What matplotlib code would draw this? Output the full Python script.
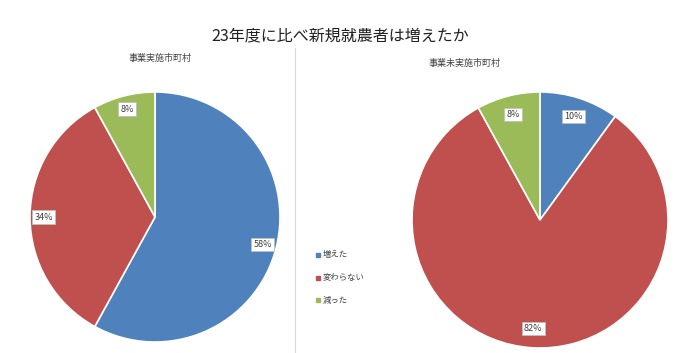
import matplotlib
matplotlib.use("Agg")
import matplotlib.pyplot as plt
from matplotlib.lines import Line2D

plt.rcParams['font.family'] = ['Noto Sans CJK JP', 'DejaVu Sans']

title = "23年度に比べ新規就農者は増えたか"
categories = ["増えた", "変わらない", "減った"]
left_title = "事業実施市町村"
left_values = [58, 34, 8]
right_title = "事業未実施市町村"
right_values = [10, 82, 8]
colors = ["#4F81BD", "#C0504D", "#9BBB59"]

fig = plt.figure(figsize=(7, 3.53), dpi=100)
fig.patch.set_facecolor("white")

def draw(ax, values, pctd):
    wedges, texts, autot = ax.pie(values, colors=colors, startangle=90, counterclock=False,
                                  autopct=lambda p: f"{p:.0f}%", pctdistance=pctd,
                                  wedgeprops=dict(edgecolor="white", linewidth=1.2),
                                  textprops=dict(fontsize=6.5, color="#404040"))
    for t in autot:
        t.set_bbox(dict(facecolor="white", edgecolor="#BFBFBF", boxstyle="square,pad=0.25", linewidth=0.6))
        t.set_clip_on(False)
    for w in wedges:
        w.set_clip_on(False)
    ax.set_xlim(-1, 1)
    ax.set_ylim(-1, 1)
    ax.set_aspect("equal")
    ax.axis("off")
    return autot

ax1 = fig.add_axes([30/700, (353-342)/353, 250/700, 250/353])
draw(ax1, left_values, 0.89)
ax2 = fig.add_axes([412/700, (353-348)/353, 256/700, 256/353])
at = draw(ax2, right_values, 0.85)

fig.text(340/700, 1-36/353, title, ha="center", va="center", fontsize=11.5, color="#202020")
fig.text(160/700, 1-58/353, left_title, ha="center", va="center", fontsize=6.5, color="#404040")
fig.text(465/700, 1-63/353, right_title, ha="center", va="center", fontsize=6.5, color="#404040")

fig.add_artist(Line2D([295/700, 295/700], [0, 1-48/353], transform=fig.transFigure,
                      color="#D9D9D9", linewidth=0.8))

for i, (c, lab) in enumerate(zip(colors, categories)):
    y = 1 - (255 + i*22.5)/353
    fig.add_artist(Line2D([318/700], [y], marker="s", markersize=2.5, color=c, linestyle="none",
                          transform=fig.transFigure))
    fig.text(323/700, y, lab, ha="left", va="center", fontsize=6, color="#404040")

fig.savefig("out.png", dpi=100, facecolor="white")
